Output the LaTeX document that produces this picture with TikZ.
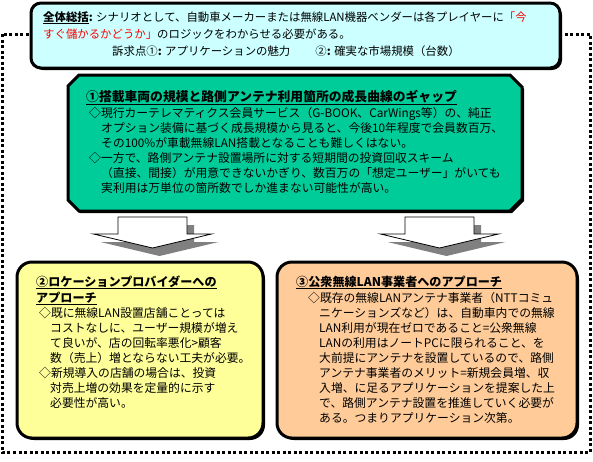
\documentclass[tikz,border=0pt]{standalone}
\usepackage{fontspec}
\setmainfont{Noto Sans CJK JP}
\definecolor{topc}{HTML}{CCFFFF}
\definecolor{greenc}{HTML}{00CC99}
\definecolor{yellowc}{HTML}{FFFF99}
\definecolor{orangec}{HTML}{FFCC99}
\definecolor{shadowc}{HTML}{808080}
\newcommand\ul[1]{\underline{\textbf{#1}}}
\begin{document}
\begin{tikzpicture}[x=1pt,y=-1pt,
  txt/.style={inner sep=0pt,anchor=base west,font=\fontsize{11.8}{14}\selectfont},
  toptxt/.style={txt,font=\fontsize{11.4}{14}\selectfont},
  ttl/.style={txt,font=\fontsize{12.1}{14}\selectfont},
  gttl/.style={txt,font=\fontsize{12.8}{14}\selectfont},
  framedots/.style={line width=3pt,dash pattern=on 3pt off 2.5pt},
  boxline/.style={line width=3pt,draw=black},
  boxshadow/.style={fill=black},
  arrowbody/.style={fill=white,draw=black,line width=0.8pt},
  arrowshade/.style={fill=shadowc}]
\useasboundingbox (0,0) rectangle (593,461);
% dotted frame
\draw[framedots] (2,34) rectangle (590,452);
% top box
\fill[boxshadow,rounded corners=10pt] (33,5) rectangle (562,70);
\draw[boxline,fill=topc,rounded corners=10pt] (31,3) rectangle (560,68);
\node[toptxt] (t1) at (43,21) {\ul{全体総括}\textbf{:} シナリオとして、自動車メーカーまたは無線LAN機器ベンダーは各プレイヤーに\textcolor{red}{「今}};
\node[toptxt] (t2) at (43,38) {\textcolor{red}{すぐ儲かるかどうか」}のロジックをわからせる必要がある。};
\node[toptxt] (t3) at (112,55) {訴求点①\textbf{:} アプリケーションの魅力\hspace{2.2em}②\textbf{:} 確実な市場規模（台数）};
% green box
\fill[boxshadow] (80,77) -- (512,77) -- (524,89) -- (524,201) -- (512,213) -- (80,213) -- (70,203) -- (70,87) -- cycle;
\draw[boxline,fill=greenc] (79,75) -- (510,75) -- (522,87) -- (522,199) -- (510,211) -- (79,211) -- (68,200) -- (68,86) -- cycle;
\node[gttl] (g0) at (86,101) {\ul{①搭載車両の規模と路側アンテナ利用箇所の成長曲線のギャップ}};
\node[txt] (g1) at (89,117) {◇現行カーテレマティクス会員サービス（G-BOOK、CarWings等）の、純正};
\node[txt] (g2) at (101,132) {オプション装備に基づく成長規模から見ると、今後10年程度で会員数百万、};
\node[txt] (g3) at (101,147) {その100\%が車載無線LAN搭載となることも難しくはない。};
\node[txt] (g4) at (89,162) {◇一方で、路側アンテナ設置場所に対する短期間の投資回収スキーム};
\node[txt] (g5) at (101,177) {（直接、間接）が用意できないかぎり、数百万の「想定ユーザー」がいても};
\node[txt] (g6) at (101,192) {実利用は万単位の箇所数でしか進まない可能性が高い。};
% arrows
\foreach \cx/\nm in {152.5/a1,439.5/a2}{
  \fill[arrowshade] ({\cx-34.5+7},{217+8}) -- ({\cx+34.5+7},{217+8}) -- ({\cx+34.5+7},{234+8}) -- ({\cx+59+7},{234+8}) -- ({\cx+7},{248+8}) -- ({\cx-59+7},{234+8}) -- ({\cx-34.5+7},{234+8}) -- cycle;
  \draw[arrowbody] ({\cx-34.5},217) -- ({\cx+34.5},217) -- ({\cx+34.5},234) -- ({\cx+59},234) -- (\cx,248) -- ({\cx-59},234) -- ({\cx-34.5},234) -- cycle;
}
% yellow box
\fill[boxshadow,rounded corners=15pt] (19,264) rectangle (265,440);
\draw[boxline,fill=yellowc,rounded corners=15pt] (17,262) rectangle (263,438);
\node[ttl] (y0) at (36,286) {\ul{②ロケーションプロバイダーへの}};
\node[ttl] (y0b) at (36,302) {\ul{アプローチ}};
\node[txt] (y1) at (39,317) {◇既に無線LAN設置店舗ことっては};
\node[txt] (y2) at (50,332) {コストなしに、ユーザー規模が増え};
\node[txt] (y3) at (50,347) {て良いが、店の回転率悪化>顧客};
\node[txt] (y4) at (50,362) {数（売上）増とならない工夫が必要。};
\node[txt] (y5) at (39,377) {◇新規導入の店舗の場合は、投資};
\node[txt] (y6) at (50,392) {対売上増の効果を定量的に示す};
\node[txt] (y7) at (50,407) {必要性が高い。};
% orange box
\fill[boxshadow,rounded corners=15pt] (279,264) rectangle (579,440);
\draw[boxline,fill=orangec,rounded corners=15pt] (277,262) rectangle (577,438);
\node[ttl] (o0) at (296,286) {\ul{③公衆無線LAN事業者へのアプローチ}};
\node[txt] (o1) at (308,302) {◇既存の無線LANアンテナ事業者（NTTコミュ};
\node[txt] (o2) at (319,317) {ニケーションズなど）は、自動車内での無線};
\node[txt] (o3) at (319,332) {LAN利用が現在ゼロであること=公衆無線};
\node[txt] (o4) at (319,347) {LANの利用はノートPCに限られること、を};
\node[txt] (o5) at (319,362) {大前提にアンテナを設置しているので、路側};
\node[txt] (o6) at (319,377) {アンテナ事業者のメリット=新規会員増、収};
\node[txt] (o7) at (319,392) {入増、に足るアプリケーションを提案した上};
\node[txt] (o8) at (319,407) {で、路側アンテナ設置を推進していく必要が};
\node[txt] (o9) at (319,422) {ある。つまりアプリケーション次第。};
\end{tikzpicture}
\end{document}
